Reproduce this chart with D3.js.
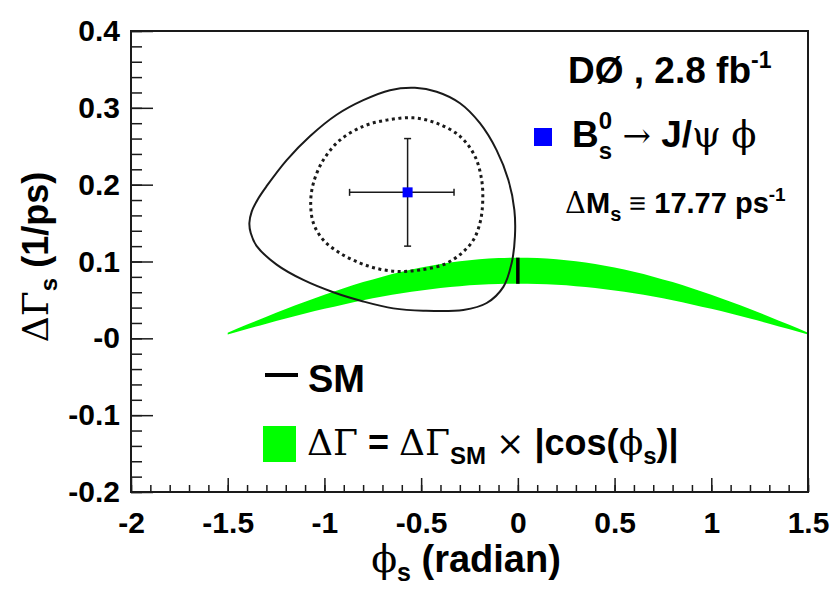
<!DOCTYPE html>
<html>
<head>
<meta charset="utf-8">
<script src="https://cdn.jsdelivr.net/npm/d3@7"></script>
<style>
    body { margin: 0; background: #fff; }
    svg text { font-family: "Liberation Sans", Arial, sans-serif; font-weight: bold; fill: #000; }
    svg text.greek { font-family: "DejaVu Serif", "Liberation Serif", serif; font-weight: normal; }
</style>
</head>
<body>
<svg id="chart"></svg>
<script>
// axis ticks
const xTicks = [-2, -1.5, -1, -0.5, 0, 0.5, 1, 1.5];
const xTickLabels = ['-2', '-1.5', '-1', '-0.5', '0', '0.5', '1', '1.5'];
const yTicks = [-0.2, -0.1, 0, 0.1, 0.2, 0.3, 0.4];
const yTickLabels = ['-0.2', '-0.1', '-0', '0.1', '0.2', '0.3', '0.4'];

// green band: dGamma_SM x |cos(phi_s)|
const bandPhi = [-1.5, -1.4, -1.3, -1.2, -1.1, -1.0, -0.9, -0.8, -0.7, -0.6, -0.5, -0.4, -0.3, -0.2, -0.1, 0,
    0.1, 0.2, 0.3, 0.4, 0.5, 0.6, 0.7, 0.8, 0.9, 1.0, 1.1, 1.2, 1.3, 1.4, 1.5];
const bandHigh = [0.0074, 0.0179, 0.0281, 0.0381, 0.0476, 0.0567, 0.0653, 0.0732, 0.0803, 0.0867, 0.0921, 0.0967, 0.1003, 0.1029, 0.1045, 0.105,
    0.1045, 0.1029, 0.1003, 0.0967, 0.0921, 0.0867, 0.0803, 0.0732, 0.0653, 0.0567, 0.0476, 0.0381, 0.0281, 0.0179, 0.0074];
const bandLow = [0.0050, 0.0121, 0.0190, 0.0257, 0.0322, 0.0384, 0.0441, 0.0495, 0.0543, 0.0586, 0.0623, 0.0654, 0.0678, 0.0696, 0.0706, 0.071,
    0.0706, 0.0696, 0.0678, 0.0654, 0.0623, 0.0586, 0.0543, 0.0495, 0.0441, 0.0384, 0.0322, 0.0257, 0.0190, 0.0121, 0.0050];

// outer (solid) contour
const outerPhi = [-0.532, -0.420, -0.299, -0.196, -0.110, -0.049, -0.018, -0.015, -0.032, -0.075, -0.161, -0.282, -0.489,
    -0.644, -0.799, -0.954, -1.109, -1.247, -1.350, -1.381, -1.388, -1.376, -1.342, -1.299, -1.195, -1.075, -0.937, -0.799, -0.661];
const outerGamma = [0.326, 0.321, 0.306, 0.280, 0.245, 0.206, 0.167, 0.133, 0.098, 0.067, 0.046, 0.037, 0.036,
    0.039, 0.048, 0.060, 0.076, 0.096, 0.120, 0.137, 0.150, 0.165, 0.182, 0.198, 0.232, 0.263, 0.291, 0.310, 0.323];

// inner (dotted) contour
const innerPhi = [-0.540, -0.420, -0.299, -0.222, -0.187, -0.182, -0.196, -0.230, -0.299, -0.385, -0.506, -0.609,
    -0.713, -0.816, -0.920, -1.006, -1.057, -1.071, -1.057, -1.006, -0.920, -0.799, -0.678];
const innerGamma = [0.287, 0.280, 0.263, 0.237, 0.206, 0.176, 0.150, 0.128, 0.109, 0.096, 0.089, 0.087,
    0.090, 0.098, 0.111, 0.128, 0.150, 0.176, 0.202, 0.232, 0.258, 0.276, 0.284];

// best fit point with errors
const fitPhi = [-0.57];
const fitGamma = [0.19];
const fitPhiErrLow = [0.30];
const fitPhiErrHigh = [0.24];
const fitGammaErr = [0.07];

// SM prediction
const smPhi = [0];
const smGamma = [0.088];
const smGammaErr = [0.017];

class DeltaGammaPlot {
    constructor(_config) {
        this.config = {
            parentElement: _config.parentElement,
            containerWidth: 833,
            containerHeight: 595,
            margin: { top: 31, right: 25, bottom: 103, left: 131 }
        };
        this.initVis();
    }

    initVis() {
        let vis = this;
        vis.width = vis.config.containerWidth - vis.config.margin.left - vis.config.margin.right;
        vis.height = vis.config.containerHeight - vis.config.margin.top - vis.config.margin.bottom;

        vis.xScale = d3.scaleLinear().domain([-2, 1.5]).range([0, vis.width]);
        vis.yScale = d3.scaleLinear().domain([-0.2, 0.4]).range([vis.height, 0]);

        vis.svg = d3.select(vis.config.parentElement)
            .attr('width', vis.config.containerWidth)
            .attr('height', vis.config.containerHeight);

        vis.chart = vis.svg.append('g')
            .attr('transform', `translate(${vis.config.margin.left},${vis.config.margin.top})`);

        vis.renderVis();
    }

    // draws a run of text pieces one after another, returns the group
    richText(parent, x, y, parts, anchor) {
        const g = parent.append('g').attr('transform', `translate(${x},${y})`);
        let cx = 0, lastStart = 0;
        parts.forEach(p => {
            const start = p.stack ? lastStart : cx;
            const t = g.append('text')
                .attr('x', start)
                .attr('y', p.shift || 0)
                .attr('class', p.greek ? 'greek' : null)
                .style('font-size', (p.size || 34) + 'px')
                .style('white-space', 'pre')
                .text(p.t);
            const w = t.node().getComputedTextLength();
            if (!p.stack) lastStart = start;
            cx = Math.max(cx, start + w);
        });
        if (anchor === 'middle') {
            g.selectAll('text').attr('x', function () { return +d3.select(this).attr('x') - cx / 2; });
        }
        return g;
    }

    renderVis() {
        let vis = this;
        const x = vis.xScale, y = vis.yScale;

        // band
        const band = d3.area()
            .x((d, i) => x(bandPhi[i]))
            .y0((d, i) => y(bandLow[i]))
            .y1((d, i) => y(bandHigh[i]))
            .curve(d3.curveNatural);
        vis.chart.append('path')
            .attr('d', band(bandPhi))
            .attr('fill', '#00ff00');

        // contours
        const contour = d3.line().curve(d3.curveCatmullRomClosed);
        vis.chart.append('path')
            .attr('d', contour(outerPhi.map((p, i) => [x(p), y(outerGamma[i])])))
            .attr('fill', 'none')
            .attr('stroke', '#1a1a1a')
            .attr('stroke-width', 2);
        vis.chart.append('path')
            .attr('d', contour(innerPhi.map((p, i) => [x(p), y(innerGamma[i])])))
            .attr('fill', 'none')
            .attr('stroke', '#1a1a1a')
            .attr('stroke-width', 3)
            .attr('stroke-dasharray', '3,3.5');

        // SM line
        vis.chart.selectAll('.sm')
            .data(smPhi)
            .join('line')
            .attr('class', 'sm')
            .attr('x1', (d) => x(d)).attr('x2', (d) => x(d))
            .attr('y1', (d, i) => y(smGamma[i] - smGammaErr[i]))
            .attr('y2', (d, i) => y(smGamma[i] + smGammaErr[i]))
            .attr('stroke', '#000')
            .attr('stroke-width', 3.5);

        // error bars
        const eb = vis.chart.append('g').attr('stroke', '#1a1a1a').attr('stroke-width', 1.5);
        fitPhi.forEach((p, i) => {
            const px = x(p), py = y(fitGamma[i]);
            const xl = x(p - fitPhiErrLow[i]), xh = x(p + fitPhiErrHigh[i]);
            const yl = y(fitGamma[i] - fitGammaErr[i]), yh = y(fitGamma[i] + fitGammaErr[i]);
            eb.append('line').attr('x1', xl).attr('x2', xh).attr('y1', py).attr('y2', py);
            eb.append('line').attr('x1', px).attr('x2', px).attr('y1', yl).attr('y2', yh);
            eb.append('line').attr('x1', xl).attr('x2', xl).attr('y1', py - 3.5).attr('y2', py + 3.5);
            eb.append('line').attr('x1', xh).attr('x2', xh).attr('y1', py - 3.5).attr('y2', py + 3.5);
            eb.append('line').attr('x1', px - 3.5).attr('x2', px + 3.5).attr('y1', yl).attr('y2', yl);
            eb.append('line').attr('x1', px - 3.5).attr('x2', px + 3.5).attr('y1', yh).attr('y2', yh);
        });
        vis.chart.selectAll('.fit')
            .data(fitPhi)
            .join('rect')
            .attr('class', 'fit')
            .attr('x', (d) => x(d) - 5)
            .attr('y', (d, i) => y(fitGamma[i]) - 5)
            .attr('width', 10).attr('height', 10)
            .attr('fill', '#0000ff');

        // axes (ticks inward)
        const xMinor = d3.axisBottom(x).tickValues(d3.range(-2, 1.501, 0.1)).tickSize(-7).tickFormat('');
        const xMajor = d3.axisBottom(x).tickValues(xTicks).tickSize(-14).tickPadding(20)
            .tickFormat((d, i) => xTickLabels[i]);
        const yMinor = d3.axisLeft(y).tickValues(d3.range(-0.2, 0.401, 0.02)).tickSize(-11).tickFormat('');
        const yMajor = d3.axisLeft(y).tickValues(yTicks).tickSize(-22).tickPadding(11)
            .tickFormat((d, i) => yTickLabels[i]);

        [xMinor, xMajor].forEach(a => {
            vis.chart.append('g').attr('class', 'axis x-axis')
                .attr('transform', `translate(0,${vis.height})`).call(a);
        });
        [yMinor, yMajor].forEach(a => {
            vis.chart.append('g').attr('class', 'axis y-axis').call(a);
        });
        vis.chart.selectAll('.axis .domain').remove();
        vis.chart.selectAll('.axis line').attr('stroke', '#1a1a1a').attr('stroke-width', 1.5);
        vis.chart.selectAll('.axis text')
            .style('font-family', '"Liberation Sans", Arial, sans-serif')
            .style('font-weight', 'bold')
            .style('font-size', '30px')
            .attr('fill', '#000');

        // frame
        vis.chart.append('rect')
            .attr('width', vis.width).attr('height', vis.height)
            .attr('fill', 'none').attr('stroke', '#1a1a1a').attr('stroke-width', 2);

        // axis titles
        vis.richText(vis.svg, 466, 572, [
            { t: 'ϕ', greek: true, size: 38 },
            { t: 's', size: 25, shift: 9 },
            { t: ' (radian)', size: 38 }
        ], 'middle');

        const yt = vis.svg.append('g').attr('transform', 'translate(48,257) rotate(-90)');
        vis.richText(yt, 0, 0, [
            { t: 'ΔΓ', greek: true, size: 36 },
            { t: 's', size: 24, shift: 9 },
            { t: ' (1/ps)', size: 36 }
        ], 'middle');

        // top right text
        vis.richText(vis.svg, 568, 83, [
            { t: 'DØ , 2.8 fb', size: 37 },
            { t: '-1', size: 23, shift: -15 }
        ]);
        vis.svg.append('rect')
            .attr('x', 534).attr('y', 128).attr('width', 18).attr('height', 18)
            .attr('fill', '#0000ff');
        vis.richText(vis.svg, 572, 147, [
            { t: 'B', size: 37 },
            { t: '0', size: 24, shift: -18 },
            { t: 's', size: 24, shift: 12, stack: true },
            { t: ' ', size: 37 },
            { t: '→', greek: true, size: 34 },
            { t: ' J/', size: 37 },
            { t: 'ψ', greek: true, size: 37 },
            { t: ' ', size: 37 },
            { t: 'ϕ', greek: true, size: 37 }
        ]);
        vis.richText(vis.svg, 565, 213, [
            { t: 'Δ', greek: true, size: 29 },
            { t: 'M', size: 29 },
            { t: 's', size: 20, shift: 8 },
            { t: ' ≡ 17.77 ps', size: 29 },
            { t: '-1', size: 19, shift: -12 }
        ]);

        // legend
        vis.svg.append('line')
            .attr('x1', 265).attr('x2', 298).attr('y1', 375).attr('y2', 375)
            .attr('stroke', '#000').attr('stroke-width', 4);
        vis.richText(vis.svg, 308, 392, [{ t: 'SM', size: 38 }]);
        vis.svg.append('rect')
            .attr('x', 263).attr('y', 426).attr('width', 33).attr('height', 36)
            .attr('fill', '#00ff00');
        vis.richText(vis.svg, 307, 455, [
            { t: 'ΔΓ', greek: true, size: 36 },
            { t: ' = ', size: 36 },
            { t: 'ΔΓ', greek: true, size: 36 },
            { t: 'SM', size: 24, shift: 9 },
            { t: ' ', size: 36 },
            { t: '×', greek: true, size: 34 },
            { t: ' |cos(', size: 36 },
            { t: 'ϕ', greek: true, size: 36 },
            { t: 's', size: 24, shift: 9 },
            { t: ')|', size: 36 }
        ]);
    }
}

new DeltaGammaPlot({ parentElement: '#chart' });
</script>
</body>
</html>
